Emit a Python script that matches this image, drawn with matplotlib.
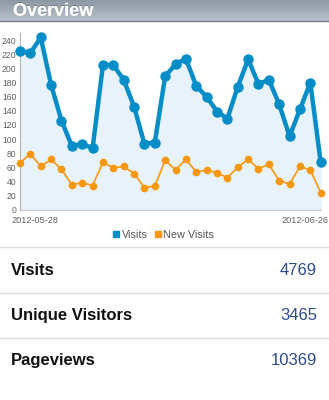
import numpy as np
import matplotlib
matplotlib.use("Agg")
import matplotlib.pyplot as plt
from matplotlib.lines import Line2D
from matplotlib import patheffects as pe
from matplotlib.transforms import ScaledTranslation

plt.rcParams['font.family'] = ['Liberation Sans', 'DejaVu Sans']

# Daily series, 2012-05-28 .. 2012-06-26
visits = [225, 222, 244, 177, 126, 90, 93, 87, 205, 205, 184, 146, 93, 95, 189,
          206, 214, 175, 160, 139, 129, 174, 213, 178, 184, 149, 104, 142, 180, 67]
new_visits = [66, 79, 61, 71, 57, 35, 38, 34, 67, 59, 61, 51, 31, 33, 70,
              56, 71, 53, 56, 52, 45, 60, 71, 58, 64, 41, 36, 61, 56, 24]
date_labels = ["2012-05-28", "2012-06-26"]
y_ticks = list(range(0, 241, 20))

summary_names = ["Visits", "Unique Visitors", "Pageviews"]
summary_values = ["4769", "3465", "10369"]

W, H = 329, 400
fig = plt.figure(figsize=(W / 100, H / 100), dpi=100)
fig.patch.set_facecolor("white")

# Header bar with vertical gradient
hdr_h = 21
hax = fig.add_axes([0, 1 - hdr_h / H, 1, hdr_h / H])
top = np.array([0x8c, 0x98, 0xa4]) / 255
bot = np.array([0xb9, 0xc2, 0xcb]) / 255
t = np.linspace(0, 1, 64)[:, None]
grad = (top[None, :] * (1 - t) + bot[None, :] * t)[:, None, :]
hax.imshow(grad, aspect="auto", extent=[0, 1, 0, 1])
hax.set_xlim(0, 1)
hax.set_ylim(0, 1)
hax.axis("off")
hax.text(13 / W, 0.47, "Overview", color="white", fontsize=13, fontweight="bold",
         va="center", ha="left",
         path_effects=[pe.withSimplePatchShadow(offset=(0, 0.8), shadow_rgbFace="#5d6670", alpha=0.6),
                       pe.Normal()])
fig.add_artist(Line2D([0, 1], [1 - hdr_h / H, 1 - hdr_h / H], color="#747f89", lw=1.0))

# Chart
x = np.arange(len(visits))
y0_px, ymax = 209.5, 250
px_per_unit = 0.705
top_px = y0_px - ymax * px_per_unit
left_px, right_px = 20, 320.7
ax = fig.add_axes([left_px / W, 1 - y0_px / H, (right_px - left_px) / W, (y0_px - top_px) / H])
ax.set_xlim(0, len(visits) - 1)
ax.set_ylim(0, ymax)
ax.fill_between(x, visits, 0, color="#e7f2fa", zorder=1)
ax.plot(x, visits, color="#058dc7", lw=3.2, marker="o", ms=6.5, zorder=4,
        solid_joinstyle="round", clip_on=False)
ax.plot(x, new_visits, color="#f7960f", lw=1.2, marker="o", ms=4.5, zorder=3,
        clip_on=False)

for s in ["top", "right"]:
    ax.spines[s].set_visible(False)
ax.spines["left"].set_color("#b0b0b0")
ax.spines["bottom"].set_color("#c8c8c8")
ax.spines["left"].set_linewidth(0.8)
ax.spines["bottom"].set_linewidth(0.8)

ax.set_yticks(y_ticks)
ax.set_yticklabels([str(v) for v in y_ticks])
ax.tick_params(axis="y", length=0, pad=2.5, labelsize=6.2, labelcolor="#606060")
ax.set_xticks([0, len(visits) - 1])
ax.set_xticklabels(date_labels)
ax.tick_params(axis="x", length=0, pad=4.5, labelsize=6.6, labelcolor="#606060")
xl = ax.get_xticklabels()
xl[0].set_ha("left")
xl[0].set_transform(xl[0].get_transform() + ScaledTranslation(-9 / 100, 0, fig.dpi_scale_trans))
xl[1].set_ha("right")
xl[1].set_transform(xl[1].get_transform() + ScaledTranslation(7.5 / 100, 0, fig.dpi_scale_trans))

handles = [Line2D([], [], color="#058dc7", marker="s", ls="none", ms=4.3),
           Line2D([], [], color="#f7960f", marker="s", ls="none", ms=4.3)]
fig.legend(handles, ["Visits", "New Visits"], loc="center", ncol=2,
           bbox_to_anchor=(164 / W, 1 - 234.5 / H), frameon=False, fontsize=7.8,
           handlelength=0.5, handletextpad=0.3, columnspacing=0.6,
           labelcolor="#555555", borderpad=0)

# Summary rows
for yline in [247, 292.5, 337.5]:
    fig.add_artist(Line2D([0, 1], [1 - yline / H, 1 - yline / H], color="#dcdcdc", lw=1.0))
row_centers = [270.5, 315.5, 360.5]
for name, val, yc in zip(summary_names, summary_values, row_centers):
    fig.text(11 / W, 1 - yc / H, name, fontsize=12, fontweight="bold", color="#111111",
             va="center", ha="left")
    fig.text(317 / W, 1 - yc / H, val, fontsize=12, color="#2c4b8c", va="center", ha="right")

fig.savefig("out.png", dpi=100, facecolor="white")
